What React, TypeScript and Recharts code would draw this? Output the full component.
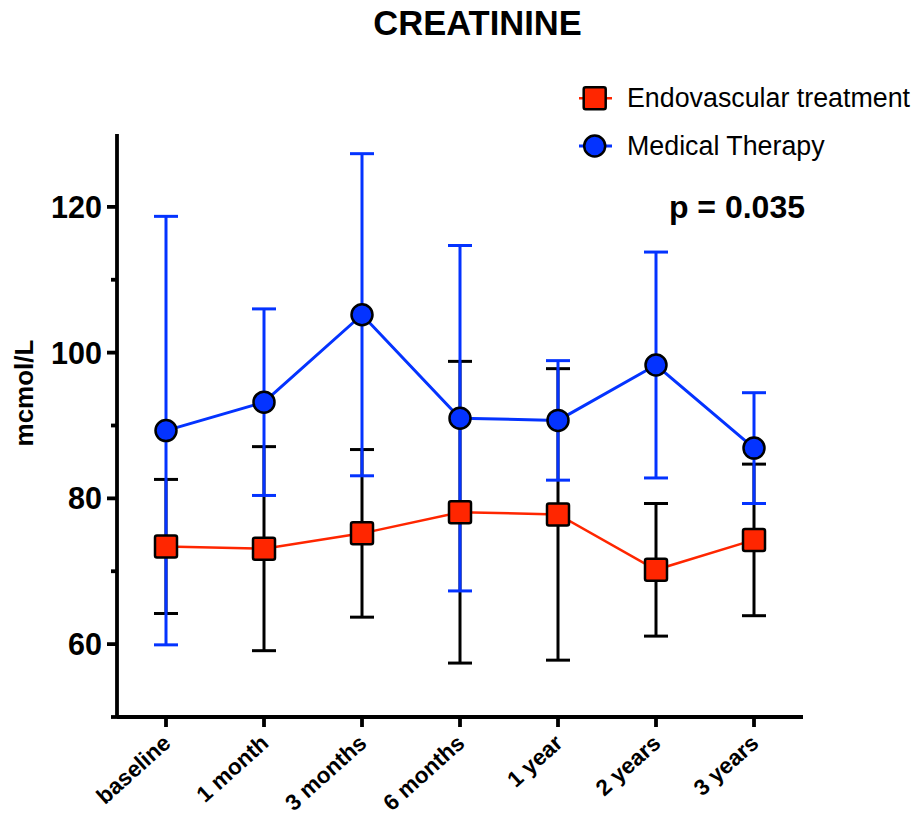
import React from 'react';
import { LineChart, Line, XAxis, YAxis, ErrorBar, Legend, Customized } from 'recharts';

const categories = ['baseline', '1 month', '3 months', '6 months', '1 year', '2 years', '3 years'];
const endoMean = [73.4, 73.1, 75.2, 78.1, 77.8, 70.2, 74.3];
const endoSD = [9.2, 14.0, 11.5, 20.7, 20.0, 9.1, 10.4];
const medMean = [89.3, 93.2, 105.2, 91.0, 90.7, 98.3, 86.9];
const medSD = [29.4, 12.8, 22.1, 23.7, 8.2, 15.5, 7.6];
const yTicks = [50, 60, 70, 80, 90, 100, 110, 120];
const yLabeled = [60, 80, 100, 120];
const seriesNames = ['Endovascular treatment', 'Medical Therapy'];
const titleText = 'CREATININE';
const yLabelText = 'mcmol/L';
const pText = 'p = 0.035';

const RED = '#FF2600';
const BLUE = '#0433FF';
const FONT = '"Liberation Sans", Arial, Helvetica, sans-serif';

const data = categories.map((c, i) => ({
  name: c,
  endo: endoMean[i],
  endoErr: endoSD[i],
  med: medMean[i],
  medErr: medSD[i],
}));

const SquareDot = (props: any) => {
  const { cx, cy, index } = props;
  if (cx == null || cy == null) return null;
  return (
    <rect
      key={`sq-${index}`}
      x={cx - 11}
      y={cy - 11}
      width={22}
      height={22}
      rx={2}
      fill={RED}
      stroke="#000"
      strokeWidth={2.5}
    />
  );
};

const Y_TICK_SIZE = 10;
const Y_TICK_MARGIN = 5;

const YTick = (props: any) => {
  const { x, y, payload } = props;
  const axisX = x + Y_TICK_SIZE + Y_TICK_MARGIN;
  const major = yLabeled.includes(payload.value);
  return (
    <g>
      <line x1={axisX - (major ? 10 : 6)} x2={axisX} y1={y} y2={y} stroke="#000" strokeWidth={3.8} />
      {major && (
        <text
          x={x}
          y={y}
          dy="0.36em"
          textAnchor="end"
          fontSize={30.5}
          fontWeight="bold"
          fontFamily={FONT}
          fill="#000"
        >
          {payload.value}
        </text>
      )}
    </g>
  );
};

const XTick = (props: any) => {
  const { x, y, payload } = props;
  return (
    <text
      x={0}
      y={0}
      transform={`translate(${x + 6},${y + 16}) rotate(-42)`}
      textAnchor="end"
      fontSize={22.5}
      fontWeight="bold"
      fontFamily={FONT}
      fill="#000"
    >
      {payload.value}
    </text>
  );
};

const renderLegend = () => (
  <svg width={344} height={90} style={{ display: 'block', overflow: 'visible' }}>
    <line x1={9} x2={42} y1={18.3} y2={18.3} stroke={RED} strokeWidth={2.5} />
    <rect x={13.7} y={7.3} width={22} height={22} rx={2} fill={RED} stroke="#000" strokeWidth={2.5} />
    <text x={57} y={26.7} fontSize={26.8} fontFamily={FONT} fill="#000">{seriesNames[0]}</text>
    <line x1={9} x2={42} y1={66} y2={66} stroke={BLUE} strokeWidth={3} />
    <circle cx={24.7} cy={66} r={10.5} fill={BLUE} stroke="#000" strokeWidth={2.5} />
    <text x={57} y={75} fontSize={26.8} fontFamily={FONT} fill="#000">{seriesNames[1]}</text>
  </svg>
);

const Annotations = () => (
  <g>
    <text x={477.5} y={35} textAnchor="middle" fontSize={34.5} fontWeight="bold" fontFamily={FONT} fill="#000">
      {titleText}
    </text>
    <text
      x={0}
      y={0}
      transform="translate(33,393) rotate(-90)"
      textAnchor="middle"
      fontSize={26}
      fontWeight="bold"
      fontFamily={FONT}
      fill="#000"
    >
      {yLabelText}
    </text>
    <text x={805} y={218} textAnchor="end" fontSize={32} fontWeight="bold" fontFamily={FONT} fill="#000">
      {pText}
    </text>
  </g>
);

export default function App() {
  return (
    <div style={{ position: 'absolute', left: 0, top: 0, width: 914, height: 816, background: '#fff' }}>
      <LineChart width={914} height={816} data={data} margin={{ top: 134, right: 111, bottom: 39, left: 37 }}>
        <XAxis
          dataKey="name"
          padding={{ left: 49, right: 49 }}
          height={60}
          axisLine={{ stroke: '#000', strokeWidth: 3.8 }}
          tickLine={{ stroke: '#000', strokeWidth: 3.8 }}
          tickSize={10}
          tickMargin={2}
          interval={0}
          tick={<XTick />}
        />
        <YAxis
          type="number"
          domain={[50, 130]}
          ticks={yTicks}
          width={80}
          axisLine={{ stroke: '#000', strokeWidth: 3.8 }}
          tickLine={false}
          tickSize={Y_TICK_SIZE}
          tickMargin={Y_TICK_MARGIN}
          interval={0}
          tick={<YTick />}
        />
        <Legend
          layout="vertical"
          align="center"
          verticalAlign="middle"
          wrapperStyle={{ top: 80, left: 570, width: 344 }}
          content={renderLegend}
        />
        <Line
          dataKey="endo"
          name={seriesNames[0]}
          stroke={RED}
          strokeWidth={2.5}
          type="linear"
          dot={<SquareDot />}
          activeDot={false}
          isAnimationActive={false}
        >
          <ErrorBar dataKey="endoErr" width={12} stroke="#000" strokeWidth={3} direction="y" isAnimationActive={false} />
        </Line>
        <Line
          dataKey="med"
          name={seriesNames[1]}
          stroke={BLUE}
          strokeWidth={3}
          type="linear"
          dot={{ r: 10.5, fill: BLUE, stroke: '#000', strokeWidth: 2.5 }}
          activeDot={false}
          isAnimationActive={false}
        >
          <ErrorBar dataKey="medErr" width={12} stroke={BLUE} strokeWidth={3} direction="y" isAnimationActive={false} />
        </Line>
        <Customized component={Annotations} />
      </LineChart>
    </div>
  );
}
